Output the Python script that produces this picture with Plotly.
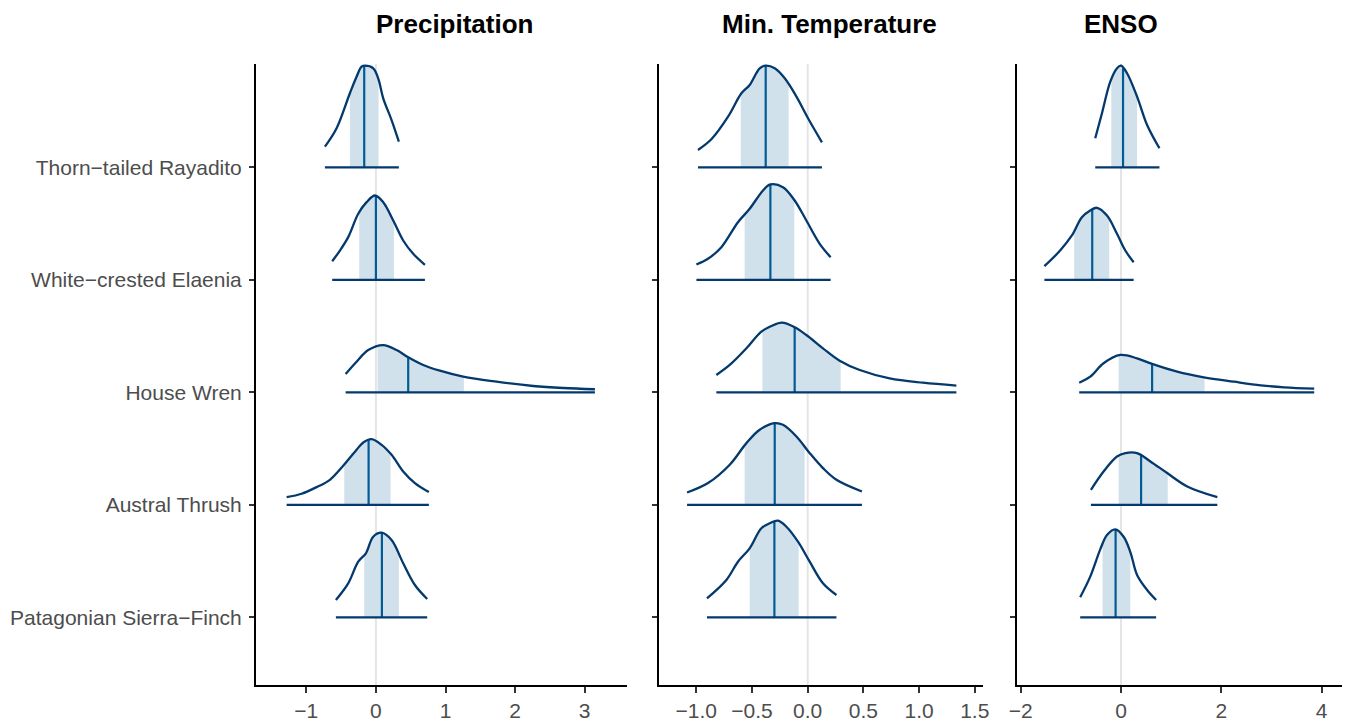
import numpy as np
import plotly.graph_objects as go

# ---------------- data ----------------
species = ["Thorn−tailed Rayadito", "White−crested Elaenia", "House Wren",
           "Austral Thrush", "Patagonian Sierra−Finch"]
panel_titles = ["Precipitation", "Min. Temperature", "ENSO"]

# Precipitation
precip_lo = [-0.374, -0.24, 0.024, -0.455, -0.168]
precip_med = [-0.168, 0.0, 0.464, -0.105, 0.086]
precip_hi = [0.038, 0.259, 1.264, 0.211, 0.33]
precip_thorn_x = [-0.733, -0.565, -0.374, -0.278, -0.206, -0.158, -0.038, 0.033, 0.105, 0.225, 0.33]
precip_thorn_h = [0.183, 0.347, 0.658, 0.805, 0.894, 0.903, 0.88, 0.79, 0.613, 0.42, 0.228]
precip_elaenia_x = [-0.628, -0.517, -0.398, -0.254, -0.134, -0.014, 0.105, 0.249, 0.392, 0.536, 0.704]
precip_elaenia_h = [0.165, 0.26, 0.379, 0.587, 0.69, 0.749, 0.69, 0.527, 0.349, 0.231, 0.133]
precip_wren_x = [-0.435, -0.278, -0.11, 0.105, 0.297, 0.464, 0.68, 0.92, 1.254, 1.734, 2.26, 2.69, 3.147]
precip_wren_h = [0.163, 0.272, 0.376, 0.42, 0.376, 0.311, 0.243, 0.192, 0.139, 0.094, 0.056, 0.038, 0.027]
precip_thrush_x = [-1.283, -1.068, -0.852, -0.661, -0.47, -0.278, -0.182, -0.062, 0.082, 0.225, 0.392, 0.56, 0.761]
precip_thrush_h = [0.068, 0.098, 0.157, 0.222, 0.347, 0.489, 0.554, 0.584, 0.533, 0.444, 0.296, 0.193, 0.113]
precip_finch_x = [-0.575, -0.398, -0.254, -0.144, -0.039, 0.082, 0.225, 0.392, 0.56, 0.737]
precip_finch_h = [0.154, 0.302, 0.494, 0.569, 0.716, 0.752, 0.687, 0.48, 0.287, 0.163]

# Min. Temperature
temp_lo = [-0.601, -0.566, -0.407, -0.566, -0.521]
temp_med = [-0.377, -0.335, -0.117, -0.296, -0.299]
temp_hi = [-0.171, -0.12, 0.296, -0.027, -0.081]
temp_thorn_x = [-0.985, -0.865, -0.715, -0.595, -0.521, -0.431, -0.377, -0.296, -0.206, -0.101, 0.003, 0.128]
temp_thorn_h = [0.154, 0.249, 0.45, 0.658, 0.732, 0.88, 0.903, 0.88, 0.791, 0.628, 0.436, 0.222]
temp_elaenia_x = [-0.999, -0.895, -0.775, -0.626, -0.521, -0.401, -0.335, -0.222, -0.117, -0.012, 0.108, 0.206]
temp_elaenia_h = [0.136, 0.187, 0.29, 0.512, 0.631, 0.794, 0.847, 0.823, 0.705, 0.527, 0.32, 0.201]
temp_wren_x = [-0.82, -0.7, -0.55, -0.416, -0.326, -0.231, -0.117, -0.012, 0.137, 0.287, 0.467, 0.736, 1.035, 1.335]
temp_wren_h = [0.154, 0.243, 0.391, 0.539, 0.589, 0.619, 0.578, 0.509, 0.391, 0.281, 0.198, 0.124, 0.085, 0.059]
temp_thrush_x = [-1.083, -0.895, -0.7, -0.55, -0.431, -0.296, -0.222, -0.101, 0.018, 0.137, 0.258, 0.487]
temp_thrush_h = [0.109, 0.193, 0.356, 0.548, 0.667, 0.726, 0.711, 0.607, 0.459, 0.326, 0.222, 0.118]
temp_finch_x = [-0.904, -0.73, -0.626, -0.521, -0.416, -0.341, -0.267, -0.191, -0.087, 0.018, 0.137, 0.258]
temp_finch_h = [0.169, 0.332, 0.494, 0.613, 0.791, 0.836, 0.859, 0.805, 0.672, 0.494, 0.302, 0.198]

# ENSO
enso_lo = [-0.194, -0.934, -0.048, -0.048, -0.368]
enso_med = [0.04, -0.574, 0.62, 0.4, -0.108]
enso_hi = [0.32, -0.234, 1.666, 0.932, 0.186]
enso_thorn_x = [-0.514, -0.38, -0.214, -0.08, 0.0, 0.12, 0.32, 0.52, 0.766]
enso_thorn_h = [0.258, 0.48, 0.761, 0.88, 0.903, 0.836, 0.628, 0.376, 0.169]
enso_elaenia_x = [-1.528, -1.214, -0.98, -0.78, -0.614, -0.48, -0.28, -0.08, 0.086, 0.252]
enso_elaenia_h = [0.121, 0.26, 0.394, 0.556, 0.616, 0.64, 0.571, 0.409, 0.26, 0.156]
enso_wren_x = [-0.834, -0.614, -0.348, -0.014, 0.32, 0.62, 1.12, 1.652, 2.252, 2.786, 3.252, 3.852]
enso_wren_h = [0.085, 0.139, 0.258, 0.332, 0.302, 0.252, 0.183, 0.133, 0.094, 0.062, 0.044, 0.032]
enso_thrush_x = [-0.6, -0.348, -0.08, 0.086, 0.32, 0.586, 0.92, 1.32, 1.92]
enso_thrush_h = [0.133, 0.296, 0.429, 0.459, 0.459, 0.385, 0.282, 0.163, 0.068]
enso_finch_x = [-0.814, -0.614, -0.414, -0.28, -0.114, 0.052, 0.186, 0.32, 0.52, 0.7]
enso_finch_h = [0.178, 0.361, 0.604, 0.732, 0.782, 0.716, 0.58, 0.376, 0.243, 0.154]

# axis ticks
precip_ticks = [-1, 0, 1, 2, 3]
precip_ticktext = ["−1", "0", "1", "2", "3"]
temp_ticks = [-1.0, -0.5, 0.0, 0.5, 1.0, 1.5]
temp_ticktext = ["−1.0", "−0.5", "0.0", "0.5", "1.0", "1.5"]
enso_ticks = [-2, 0, 2, 4]
enso_ticktext = ["−2", "0", "2", "4"]

# ---------------- assemble ----------------
panels = [
    dict(lo=precip_lo, med=precip_med, hi=precip_hi,
         curves=[(precip_thorn_x, precip_thorn_h), (precip_elaenia_x, precip_elaenia_h),
                 (precip_wren_x, precip_wren_h), (precip_thrush_x, precip_thrush_h),
                 (precip_finch_x, precip_finch_h)],
         ticks=precip_ticks, ticktext=precip_ticktext, rng=[-1.723, 3.608],
         dom=[256, 627]),
    dict(lo=temp_lo, med=temp_med, hi=temp_hi,
         curves=[(temp_thorn_x, temp_thorn_h), (temp_elaenia_x, temp_elaenia_h),
                 (temp_wren_x, temp_wren_h), (temp_thrush_x, temp_thrush_h),
                 (temp_finch_x, temp_finch_h)],
         ticks=temp_ticks, ticktext=temp_ticktext, rng=[-1.335, 1.574],
         dom=[659, 983]),
    dict(lo=enso_lo, med=enso_med, hi=enso_hi,
         curves=[(enso_thorn_x, enso_thorn_h), (enso_elaenia_x, enso_elaenia_h),
                 (enso_wren_x, enso_wren_h), (enso_thrush_x, enso_thrush_h),
                 (enso_finch_x, enso_finch_h)],
         ticks=enso_ticks, ticktext=enso_ticktext, rng=[-2.074, 4.406],
         dom=[1017, 1342]),
]

W, H = 1352, 723
FILL = "#d1e1ec"
DARK = "#03396c"
MID = "#005b96"
FONT = "Liberation Sans, Arial, Helvetica, sans-serif"
rows = [5, 4, 3, 2, 1]

fig = go.Figure()
layout = dict(width=W, height=H, margin=dict(l=0, r=0, t=0, b=0),
              paper_bgcolor="white", plot_bgcolor="white", showlegend=False,
              font=dict(family=FONT))
shapes = []
annotations = []
ydom = [1 - 685 / H, 1 - 64 / H]

for k, p in enumerate(panels):
    sfx = "" if k == 0 else str(k + 1)
    xa, ya = "x" + sfx, "y" + sfx
    # zero reference line
    shapes.append(dict(type="line", xref=xa, yref=ya + " domain", x0=0, x1=0, y0=0, y1=1,
                       line=dict(color="#e5e5e5", width=2), layer="below"))
    # fills first
    for i, (cx, ch) in enumerate(p["curves"]):
        base = rows[i]
        cx = np.array(cx); ch = np.array(ch)
        lo, hi = p["lo"][i], p["hi"][i]
        inner = (cx > lo) & (cx < hi)
        fx = np.concatenate([[lo], cx[inner], [hi]])
        fh = np.concatenate([[np.interp(lo, cx, ch)], ch[inner], [np.interp(hi, cx, ch)]])
        fig.add_trace(go.Scatter(x=[lo, hi], y=[base, base], mode="lines",
                                 line=dict(width=0, color=FILL), xaxis=xa, yaxis=ya,
                                 hoverinfo="skip"))
        fig.add_trace(go.Scatter(x=fx, y=base + fh, mode="lines", fill="tonexty",
                                 fillcolor=FILL,
                                 line=dict(width=0, color=FILL, shape="spline", smoothing=1.0),
                                 xaxis=xa, yaxis=ya, hoverinfo="skip"))
    for i, (cx, ch) in enumerate(p["curves"]):
        base = rows[i]
        cx = np.array(cx); ch = np.array(ch)
        m = p["med"][i]
        fig.add_trace(go.Scatter(x=[m, m], y=[base, base + np.interp(m, cx, ch)], mode="lines",
                                 line=dict(width=2.2, color=MID), xaxis=xa, yaxis=ya))
        fig.add_trace(go.Scatter(x=cx, y=base + ch, mode="lines",
                                 line=dict(width=2.3, color=DARK, shape="spline", smoothing=1.0),
                                 xaxis=xa, yaxis=ya))
        fig.add_trace(go.Scatter(x=[cx[0], cx[-1]], y=[base, base], mode="lines",
                                 line=dict(width=2.3, color=DARK), xaxis=xa, yaxis=ya))

    layout["xaxis" + sfx] = dict(
        domain=[p["dom"][0] / W, p["dom"][1] / W], anchor=ya, range=p["rng"],
        showgrid=False, zeroline=False, showline=True, linecolor="black", linewidth=2,
        ticks="outside", ticklen=6, tickwidth=1.5, tickcolor="#333333",
        tickvals=p["ticks"], ticktext=p["ticktext"], automargin=False,
        tickfont=dict(size=21, color="#4d4d4d", family=FONT), fixedrange=True)
    layout["yaxis" + sfx] = dict(
        domain=ydom, anchor=xa, range=[0.398, 5.918],
        showgrid=False, zeroline=False, showline=True, linecolor="black", linewidth=2,
        ticks="outside", ticklen=5, tickwidth=1.5, tickcolor="#333333",
        tickvals=rows, ticktext=species, showticklabels=(k == 0), automargin=False,
        ticklabelstandoff=3,
        tickfont=dict(size=21, color="#4d4d4d", family=FONT), fixedrange=True)

title_x = [454, 829, 1120.5]
for t, tx in zip(panel_titles, title_x):
    annotations.append(dict(text="<b>" + t + "</b>", xref="paper", yref="paper",
                            x=tx / W, y=1 - 24 / H, xanchor="center", yanchor="middle",
                            showarrow=False, font=dict(size=26, color="black", family=FONT)))

layout["shapes"] = shapes
layout["annotations"] = annotations
fig.update_layout(**layout)
fig.write_html("out.html", config={"displayModeBar": False},
               post_script="document.body.style.margin='0';document.body.style.overflow='hidden';")
